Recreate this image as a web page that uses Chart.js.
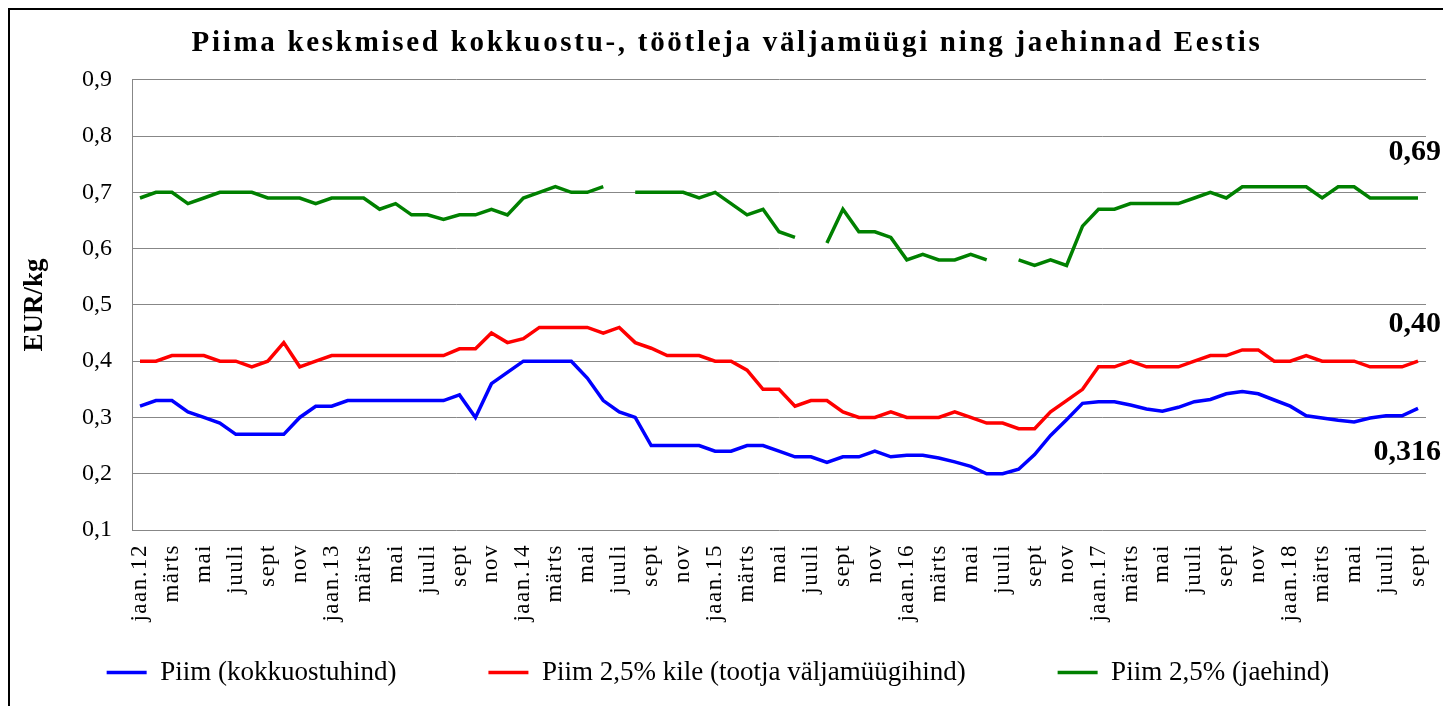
<!DOCTYPE html>
<html>
<head>
<meta charset="utf-8">
<script src="https://cdn.jsdelivr.net/npm/chart.js@4"></script>
<style>
  body { margin: 0; overflow: hidden; background: #fff; }
  #frame { position: absolute; left: 8px; top: 8px; width: 2000px; height: 2000px; border: 2px solid #000; pointer-events: none; }
</style>
</head>
<body>
<canvas id="myCanvas" width="1443" height="706"></canvas>
<div id="frame"></div>
<script>
'use strict';

// kuud jaan.2012 - sept.2018
let monthNames = ['jaan', 'veebr', 'märts', 'apr', 'mai', 'juuni', 'juuli', 'aug', 'sept', 'okt', 'nov', 'dets'];
let years = ['12', '13', '14', '15', '16', '17', '18'];

let kokkuost = [
	0.32, 0.33, 0.33, 0.31, 0.30, 0.29, 0.27, 0.27, 0.27, 0.27, 0.30, 0.32,
	0.32, 0.33, 0.33, 0.33, 0.33, 0.33, 0.33, 0.33, 0.34, 0.30, 0.36, 0.38,
	0.40, 0.40, 0.40, 0.40, 0.37, 0.33, 0.31, 0.30, 0.25, 0.25, 0.25, 0.25,
	0.24, 0.24, 0.25, 0.25, 0.24, 0.23, 0.23, 0.22, 0.23, 0.23, 0.24, 0.23,
	0.233, 0.233, 0.228, 0.221, 0.213, 0.20, 0.20, 0.208, 0.234, 0.268, 0.296, 0.325,
	0.328, 0.328, 0.322, 0.315, 0.311, 0.318, 0.328, 0.332, 0.342, 0.346, 0.342, 0.331,
	0.32, 0.303, 0.299, 0.295, 0.292, 0.299, 0.303, 0.303, 0.316
];
let tootja = [
	0.40, 0.40, 0.41, 0.41, 0.41, 0.40, 0.40, 0.39, 0.40, 0.433, 0.39, 0.40,
	0.41, 0.41, 0.41, 0.41, 0.41, 0.41, 0.41, 0.41, 0.422, 0.422, 0.45, 0.433,
	0.44, 0.46, 0.46, 0.46, 0.46, 0.45, 0.46, 0.433, 0.423, 0.41, 0.41, 0.41,
	0.40, 0.40, 0.384, 0.35, 0.35, 0.32, 0.33, 0.33, 0.31, 0.30, 0.30, 0.31,
	0.30, 0.30, 0.30, 0.31, 0.30, 0.29, 0.29, 0.28, 0.28, 0.31, 0.33, 0.35,
	0.39, 0.39, 0.40, 0.39, 0.39, 0.39, 0.40, 0.41, 0.41, 0.42, 0.42, 0.40,
	0.40, 0.41, 0.40, 0.40, 0.40, 0.39, 0.39, 0.39, 0.40
];
let jae = [
	0.69, 0.70, 0.70, 0.68, 0.69, 0.70, 0.70, 0.70, 0.69, 0.69, 0.69, 0.68,
	0.69, 0.69, 0.69, 0.67, 0.68, 0.66, 0.66, 0.652, 0.66, 0.66, 0.67, 0.66,
	0.69, 0.70, 0.71, 0.70, 0.70, 0.71, null, 0.70, 0.70, 0.70, 0.70, 0.69,
	0.70, 0.68, 0.66, 0.67, 0.63, 0.62, null, 0.61, 0.67, 0.63, 0.63, 0.62,
	0.58, 0.59, 0.58, 0.58, 0.59, 0.58, null, 0.58, 0.57, 0.58, 0.57, 0.64,
	0.67, 0.67, 0.68, 0.68, 0.68, 0.68, 0.69, 0.70, 0.69, 0.71, 0.71, 0.71,
	0.71, 0.71, 0.69, 0.71, 0.71, 0.69, 0.69, 0.69, 0.69
];
let seriesNames = ['Piim (kokkuostuhind)', 'Piim 2,5% kile (tootja väljamüügihind)', 'Piim 2,5% (jaehind)'];
let endLabels = ['0,316', '0,40', '0,69'];

let mylables = [];
for (let i = 0; i < kokkuost.length; i++) {
	let m = i % 12;
	mylables.push(m === 0 ? monthNames[m] + '.' + years[Math.floor(i / 12)] : monthNames[m]);
}

let serif = 'Liberation Serif';

// joonistab teksti hõredamalt nagu Excelis
function spaced(obj, fnName, spacing, dx) {
	if (obj._spaced) return;
	let orig = obj[fnName];
	obj[fnName] = function() {
		let ctx = this.ctx;
		ctx.save();
		ctx.letterSpacing = spacing;
		ctx.translate(dx, 0);
		orig.apply(this, arguments);
		ctx.restore();
	};
	obj._spaced = true;
}

// viimase punkti juurde väärtused
let endValues = {
	id: 'endValues',
	beforeDraw(chart) {
		if (chart.titleBlock) spaced(chart.titleBlock, 'draw', '2.7px', 9);
	},
	afterDatasetsDraw(chart) {
		let ctx = chart.ctx;
		let yScale = chart.scales.y;
		let shift = [44, -37, -46];
		ctx.save();
		ctx.font = 'bold 30px ' + serif;
		ctx.fillStyle = '#000';
		ctx.textAlign = 'right';
		ctx.textBaseline = 'middle';
		chart.data.datasets.forEach(function(ds, i) {
			let v = ds.data[ds.data.length - 1];
			ctx.fillText(endLabels[i], chart.width - 2, yScale.getPixelForValue(v) + shift[i]);
		});
		ctx.restore();
	}
};

let myChart = document.getElementById('myCanvas').getContext('2d');
let myLineChart = new Chart(myChart, {
	type: 'line',
	data: {
		labels: mylables,
		datasets: [
			{ label: seriesNames[0], data: kokkuost, borderColor: '#0000ff', backgroundColor: '#0000ff', borderWidth: 3.5 },
			{ label: seriesNames[1], data: tootja, borderColor: '#ff0000', backgroundColor: '#ff0000', borderWidth: 3.5 },
			{ label: seriesNames[2], data: jae, borderColor: '#008000', backgroundColor: '#008000', borderWidth: 3.5 }
		]
	},
	options: {
		responsive: false,
		animation: false,
		spanGaps: false,
		elements: {
			line: { tension: 0 },
			point: { radius: 0 }
		},
		layout: { padding: { left: 10, right: 17, top: 0, bottom: 10 } },
		scales: {
			x: {
				offset: true,
				grid: { display: false, drawTicks: false },
				border: { display: false },
				ticks: {
					autoSkip: false,
					maxRotation: 90,
					minRotation: 90,
					padding: 14,
					color: '#000',
					font: { family: serif, size: 23 },
					callback: function(val, index) {
						return index % 2 === 0 ? this.getLabelForValue(val) : '';
					}
				},
				afterFit: function(scale) {
					scale.height = 37;
					scale.paddingLeft = 0;
					scale.paddingRight = 0;
					// sildid ulatuvad legendi kasti alla, ära lõika neid
					scale._computeLabelArea = function() { return undefined; };
					spaced(scale, 'drawLabels', '1.5px', 0);
				}
			},
			y: {
				min: 0.1,
				max: 0.9,
				grid: { color: '#878787', lineWidth: 1, drawTicks: false },
				border: { display: true, color: '#878787' },
				ticks: {
					stepSize: 0.1,
					padding: 20,
					color: '#000',
					font: { family: serif, size: 24 },
					callback: function(v) { return v.toFixed(1).replace('.', ','); }
				},
				title: {
					display: true,
					text: 'EUR/kg',
					color: '#000',
					font: { family: serif, size: 27, weight: 'bold' },
					padding: { top: 9, bottom: 0 }
				},
				afterFit: function(scale) { scale.width = 122; }
			}
		},
		plugins: {
			title: {
				display: true,
				text: 'Piima keskmised kokkuostu-, töötleja väljamüügi ning jaehinnad Eestis',
				color: '#000',
				font: { family: serif, size: 29, weight: 'bold' },
				padding: { top: 26, bottom: 19 }
			},
			legend: {
				position: 'bottom',
				labels: {
					usePointStyle: true,
					pointStyle: 'line',
					pointStyleWidth: 40,
					padding: 92,
					color: '#000',
					font: { family: serif, size: 27 }
				}
			},
			tooltip: { enabled: false }
		}
	},
	plugins: [endValues]
});
</script>
</body>
</html>
